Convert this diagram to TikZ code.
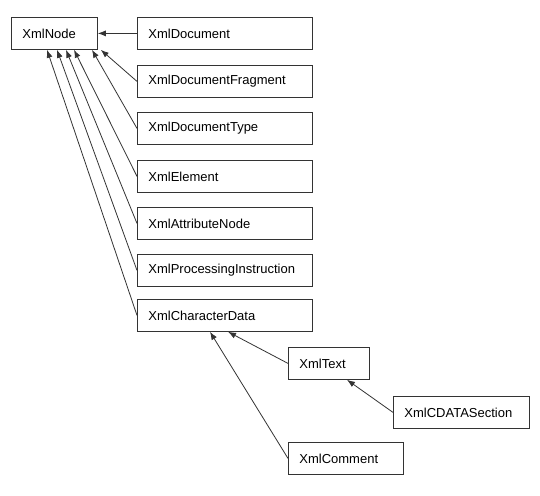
\documentclass[tikz,border=0pt]{standalone}
\usepackage{fontspec}
\setmainfont{Liberation Sans}
\usepackage{tikz}
\usetikzlibrary{calc, positioning, arrows.meta}

\tikzset{
    cls/.style={draw=black!80, line width=0.8pt, anchor=north west,
        minimum height=32pt, inner xsep=11pt, inner ysep=0pt,
        text width=#1, align=left, font=\fontsize{13}{15}\selectfont},
    inh/.style={->, draw=black!80, line width=0.8pt}
}

\begin{document}
\begin{tikzpicture}[x=1pt, y=-1pt, >={Latex[length=8pt, width=6pt]}]
    % Khung ảnh
    \useasboundingbox (0,0) rectangle (540,495);

    % 1. Lớp gốc
    \node[cls=64pt] (xmlnode) at (11,17) {XmlNode};

    % 2. Các lớp con trực tiếp
    \node[cls=153pt] (doc)      at (137,17)  {XmlDocument};
    \node[cls=153pt] (frag)     at (137,65)  {XmlDocumentFragment};
    \node[cls=153pt] (doctype)  at (137,112) {XmlDocumentType};
    \node[cls=153pt] (element)  at (137,160) {XmlElement};
    \node[cls=153pt] (attr)     at (137,207) {XmlAttributeNode};
    \node[cls=153pt] (procinst) at (137,254) {XmlProcessingInstruction};
    \node[cls=153pt] (chardata) at (137,299) {XmlCharacterData};

    % 3. Các lớp con của XmlCharacterData
    \node[cls=59pt]  (text)    at (288,347) {XmlText};
    \node[cls=114pt] (cdata)   at (393,396) {XmlCDATASection};
    \node[cls=93pt]  (comment) at (288,442) {XmlComment};

    % 4. Mũi tên kế thừa
    \draw[inh] (doc.west) -- (xmlnode.east);
    \draw[inh] (frag.west) -- ([xshift=3pt]xmlnode.south east);
    \draw[inh] (doctype.west) -- ([xshift=81pt]xmlnode.south west);
    \draw[inh] (element.west) -- ([xshift=63pt]xmlnode.south west);
    \draw[inh] (attr.west) -- ([xshift=55pt]xmlnode.south west);
    \draw[inh] (procinst.west) -- ([xshift=46pt]xmlnode.south west);
    \draw[inh] (chardata.west) -- ([xshift=36pt]xmlnode.south west);

    \draw[inh] (text.west) -- ([xshift=91pt]chardata.south west);
    \draw[inh] (comment.west) -- ([xshift=73pt]chardata.south west);
    \draw[inh] (cdata.west) -- ([xshift=59pt]text.south west);
\end{tikzpicture}
\end{document}
